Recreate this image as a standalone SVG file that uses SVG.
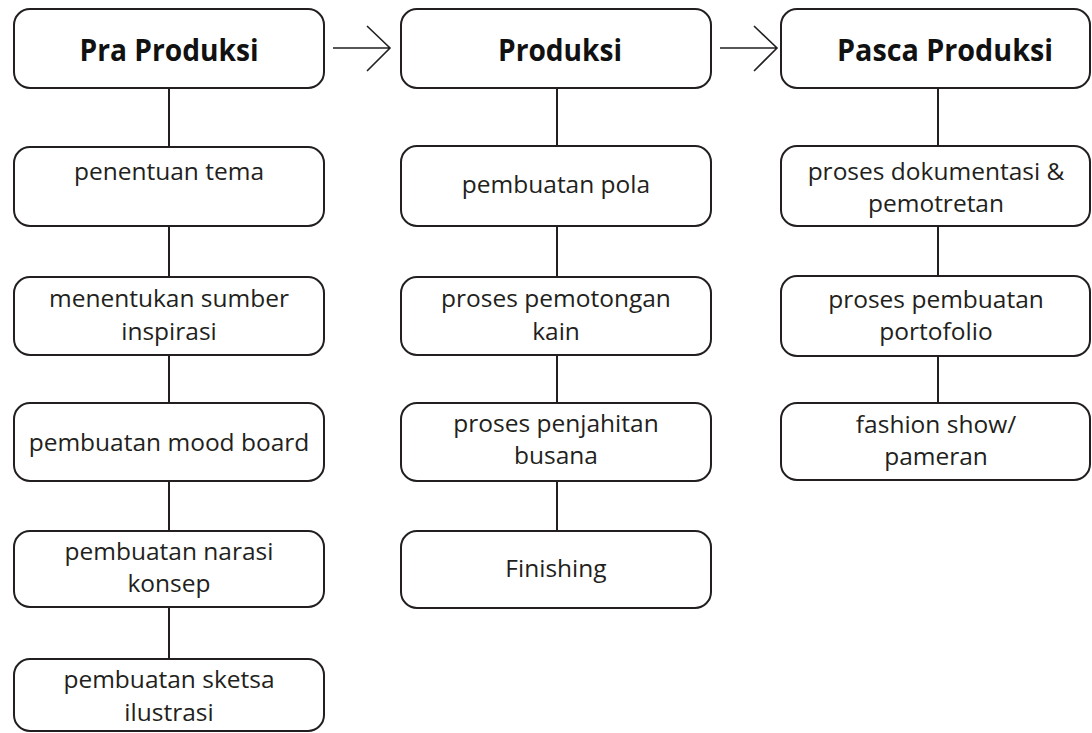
<svg xmlns="http://www.w3.org/2000/svg" width="1092" height="733" viewBox="0 0 1092 733">
<style>
.box{fill:#fff;stroke:#231f20;stroke-width:2}
.ln{stroke:#231f20;stroke-width:2;fill:none}
.ar{stroke:#231f20;stroke-width:1.6;fill:none}
.h{font-family:"Open Sans","Liberation Sans",sans-serif;font-weight:bold;font-size:31px;fill:#111;text-anchor:middle}
.t{font-family:"Open Sans","Liberation Sans",sans-serif;font-size:24.5px;fill:#231f20;text-anchor:middle}
</style>
<rect width="1092" height="733" fill="#fff"/>
<g id="connectors">
<path class="ar" d="M333 48H390M367 26L390 48L367 71"/>
<path class="ar" d="M720 48H777M754 26L777 48L754 71"/>
<path class="ln" d="M169 88V147M169 226V277M169 355V403M169 481V531M169 607V659"/>
<path class="ln" d="M557 88V146M557 226V277M557 355V403M557 481V531"/>
<path class="ln" d="M938 88V146M938 226V276M938 356V403"/>
</g>
<g id="pra-produksi"><rect class="box" x="14" y="9" width="310" height="79" rx="16"/><text class="h" x="169" y="61" textLength="179" lengthAdjust="spacingAndGlyphs">Pra Produksi</text></g>
<g id="produksi"><rect class="box" x="401" y="9" width="310" height="79" rx="16"/><text class="h" x="560" y="61" textLength="124" lengthAdjust="spacingAndGlyphs">Produksi</text></g>
<g id="pasca-produksi"><rect class="box" x="781" y="9" width="309" height="79" rx="16"/><text class="h" x="945" y="61" textLength="216" lengthAdjust="spacingAndGlyphs">Pasca Produksi</text></g>

<g id="penentuan-tema"><rect class="box" x="14" y="147" width="310" height="79" rx="16"/><text class="t" x="169" y="180">penentuan tema</text></g>
<g id="sumber-inspirasi"><rect class="box" x="14" y="277" width="310" height="78" rx="16"/><text class="t" x="169" y="307">menentukan sumber</text><text class="t" x="169" y="340">inspirasi</text></g>
<g id="mood-board"><rect class="box" x="14" y="403" width="310" height="78" rx="16"/><text class="t" x="169" y="451">pembuatan mood board</text></g>
<g id="narasi-konsep"><rect class="box" x="14" y="531" width="310" height="76" rx="16"/><text class="t" x="169" y="560">pembuatan narasi</text><text class="t" x="169" y="592">konsep</text></g>
<g id="sketsa-ilustrasi"><rect class="box" x="14" y="659" width="310" height="72" rx="16"/><text class="t" x="169" y="688">pembuatan sketsa</text><text class="t" x="169" y="721">ilustrasi</text></g>

<g id="pembuatan-pola"><rect class="box" x="401" y="146" width="310" height="80" rx="16"/><text class="t" x="556" y="193">pembuatan pola</text></g>
<g id="pemotongan-kain"><rect class="box" x="401" y="277" width="310" height="78" rx="16"/><text class="t" x="556" y="307">proses pemotongan</text><text class="t" x="556" y="340">kain</text></g>
<g id="penjahitan-busana"><rect class="box" x="401" y="403" width="310" height="78" rx="16"/><text class="t" x="556" y="432">proses penjahitan</text><text class="t" x="556" y="464">busana</text></g>
<g id="finishing"><rect class="box" x="401" y="531" width="310" height="77" rx="16"/><text class="t" x="556" y="577">Finishing</text></g>

<g id="dokumentasi"><rect class="box" x="781" y="146" width="309" height="80" rx="16"/><text class="t" x="936" y="180">proses dokumentasi &amp;</text><text class="t" x="936" y="212">pemotretan</text></g>
<g id="portofolio"><rect class="box" x="781" y="276" width="309" height="80" rx="16"/><text class="t" x="936" y="308">proses pembuatan</text><text class="t" x="936" y="340">portofolio</text></g>
<g id="fashion-show"><rect class="box" x="781" y="403" width="309" height="77" rx="16"/><text class="t" x="936" y="433">fashion show/</text><text class="t" x="936" y="465">pameran</text></g>
</svg>
